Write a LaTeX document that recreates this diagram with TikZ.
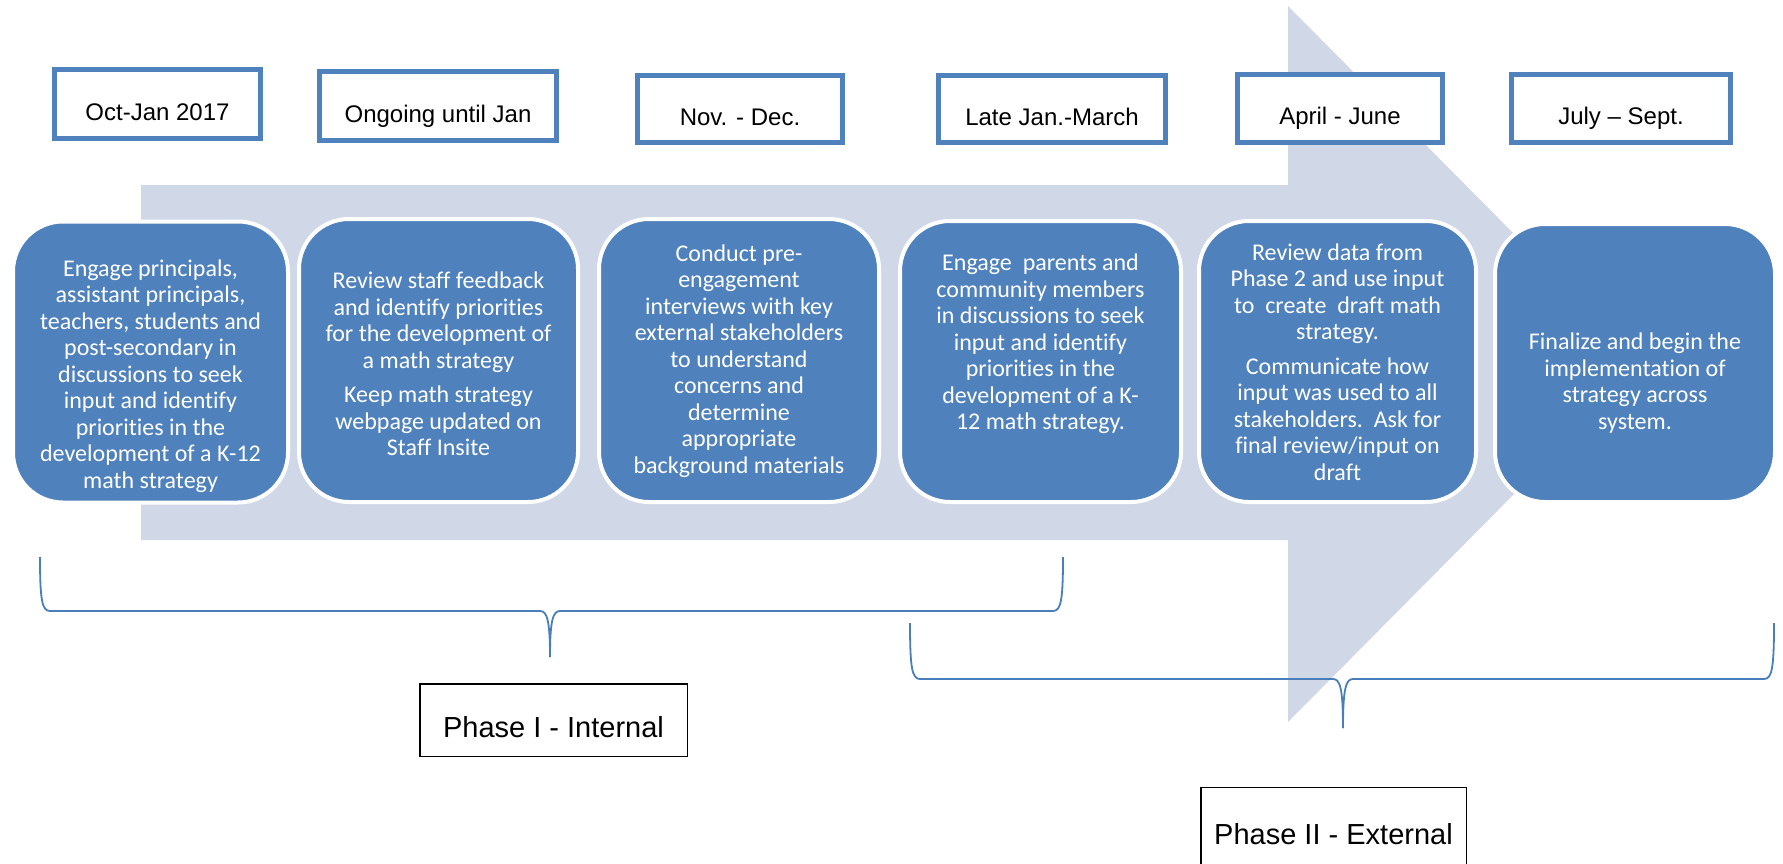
\documentclass[tikz,border=0pt]{standalone}
\usepackage{fontspec}
\setmainfont[Ligatures=CommonOff]{Carlito}
\newfontfamily\arialf{Liberation Sans}
\definecolor{boxblue}{HTML}{4F81BD}
\definecolor{arrowfill}{HTML}{D0D8E8}
\definecolor{lineblue}{HTML}{4A7EBB}
\begin{document}
\begin{tikzpicture}[x=1pt,y=-1pt,
  datebox/.style={draw=boxblue, line width=5pt, fill=white, inner sep=0pt,
    text height=32.2pt, text depth=0pt,
    font=\arialf\fontsize{24}{28}\selectfont},
  stepbox/.style={draw=white, line width=4pt, fill=boxblue, rounded corners=50pt, inner sep=0pt},
  steptext/.style={text=white, align=center, inner sep=0pt,
    font=\fontsize{24}{26.5}\selectfont},
  phasebox/.style={draw=black, line width=1.5pt, fill=white, inner sep=0pt,
    text height=34.2pt, text depth=0pt,
    font=\arialf\fontsize{29}{34}\selectfont},
  brace/.style={draw=lineblue, line width=1.8pt}
]
\useasboundingbox (0,0) rectangle (1783,864);
\clip (0,0) rectangle (1783,864);

% big arrow
\fill[arrowfill] (141,185) -- (1288,185) -- (1288,6) -- (1643,364) -- (1288,722)
  -- (1288,540) -- (141,540) -- cycle;

% date boxes
\node[datebox, minimum width=206pt, minimum height=69pt] (d1) at (157.5,104) {Oct-Jan 2017};
\node[datebox, minimum width=237pt, minimum height=69pt] (d2) at (438,106) {Ongoing until Jan};
\node[datebox, minimum width=205pt, minimum height=67pt] (d3) at (740,109) {Nov. - Dec.};
\node[datebox, minimum width=227pt, minimum height=67pt] (d4) at (1052,109) {Late Jan.-March};
\node[datebox, minimum width=205pt, minimum height=68pt] (d5) at (1340,108.5) {April - June};
\node[datebox, minimum width=219pt, minimum height=68pt] (d6) at (1621,108.5) {July – Sept.};

% step boxes
\node[stepbox, minimum width=275pt, minimum height=281pt] (s1) at (150.5,362) {};
\node[stepbox, minimum width=279pt, minimum height=283pt] (s2) at (438.5,360.5) {};
\node[stepbox, minimum width=280pt, minimum height=283pt] (s3) at (739,360.5) {};
\node[stepbox, minimum width=281pt, minimum height=281pt] (s4) at (1040.5,361.5) {};
\node[stepbox, minimum width=277pt, minimum height=281pt] (s5) at (1337.5,361.5) {};
\node[stepbox, minimum width=280pt, minimum height=278pt] (s6) at (1635,363) {};

\node[steptext] (t1) at (150.5,376) {Engage principals,\\assistant principals,\\teachers, students and\\post-secondary in\\discussions to seek\\input and identify\\priorities in the\\development of a K-12\\math strategy};
\node[steptext] (t2) at (438.5,364) {Review staff feedback\\and identify priorities\\for the development of\\a math strategy\\[8pt]Keep math strategy\\webpage updated on\\Staff Insite};
\node[steptext] (t3) at (739,361) {Conduct pre-\\engagement\\interviews with key\\external stakeholders\\to understand\\concerns and\\determine\\appropriate\\background materials};
\node[steptext] (t4) at (1040.5,344) {Engage\ \ parents and\\community members\\in discussions to seek\\input and identify\\priorities in the\\development of a K-\\12 math strategy.};
\node[steptext] (t5) at (1337.5,362) {Review data from\\Phase 2 and use input\\to\ \ create\ \ draft math\\strategy.\\[8pt]Communicate how\\input was used to all\\stakeholders.\ \ Ask for\\final review/input on\\draft};
\node[steptext] (t6) at (1635,383) {Finalize and begin the\\implementation of\\strategy across\\system.};

% braces
\coordinate (b1l) at (40,557);
\coordinate (b1r) at (1063,557);
\coordinate (b1t) at (550,657);
\draw[brace] (b1l) .. controls (40,600) and (42,611) .. (50,611) -- (540,611)
  .. controls (547,611) and (550,620) .. (b1t);
\draw[brace] (b1r) .. controls (1063,600) and (1061,611) .. (1053,611) -- (560,611)
  .. controls (553,611) and (550,620) .. (b1t);
\coordinate (b2l) at (910,623);
\coordinate (b2r) at (1774,623);
\coordinate (b2t) at (1343,728);
\draw[brace] (b2l) .. controls (910,668) and (912,679) .. (920,679) -- (1333,679)
  .. controls (1340,679) and (1343,688) .. (b2t);
\draw[brace] (b2r) .. controls (1774,668) and (1772,679) .. (1764,679) -- (1353,679)
  .. controls (1346,679) and (1343,688) .. (b2t);

% phase boxes
\node[phasebox, minimum width=267.5pt, minimum height=72.5pt] (p1) at (553.5,720) {Phase I - Internal};
\node[phasebox, minimum width=265.5pt, minimum height=80pt] (p2) at (1333.5,827.5) {Phase II - External};
\end{tikzpicture}
\end{document}
